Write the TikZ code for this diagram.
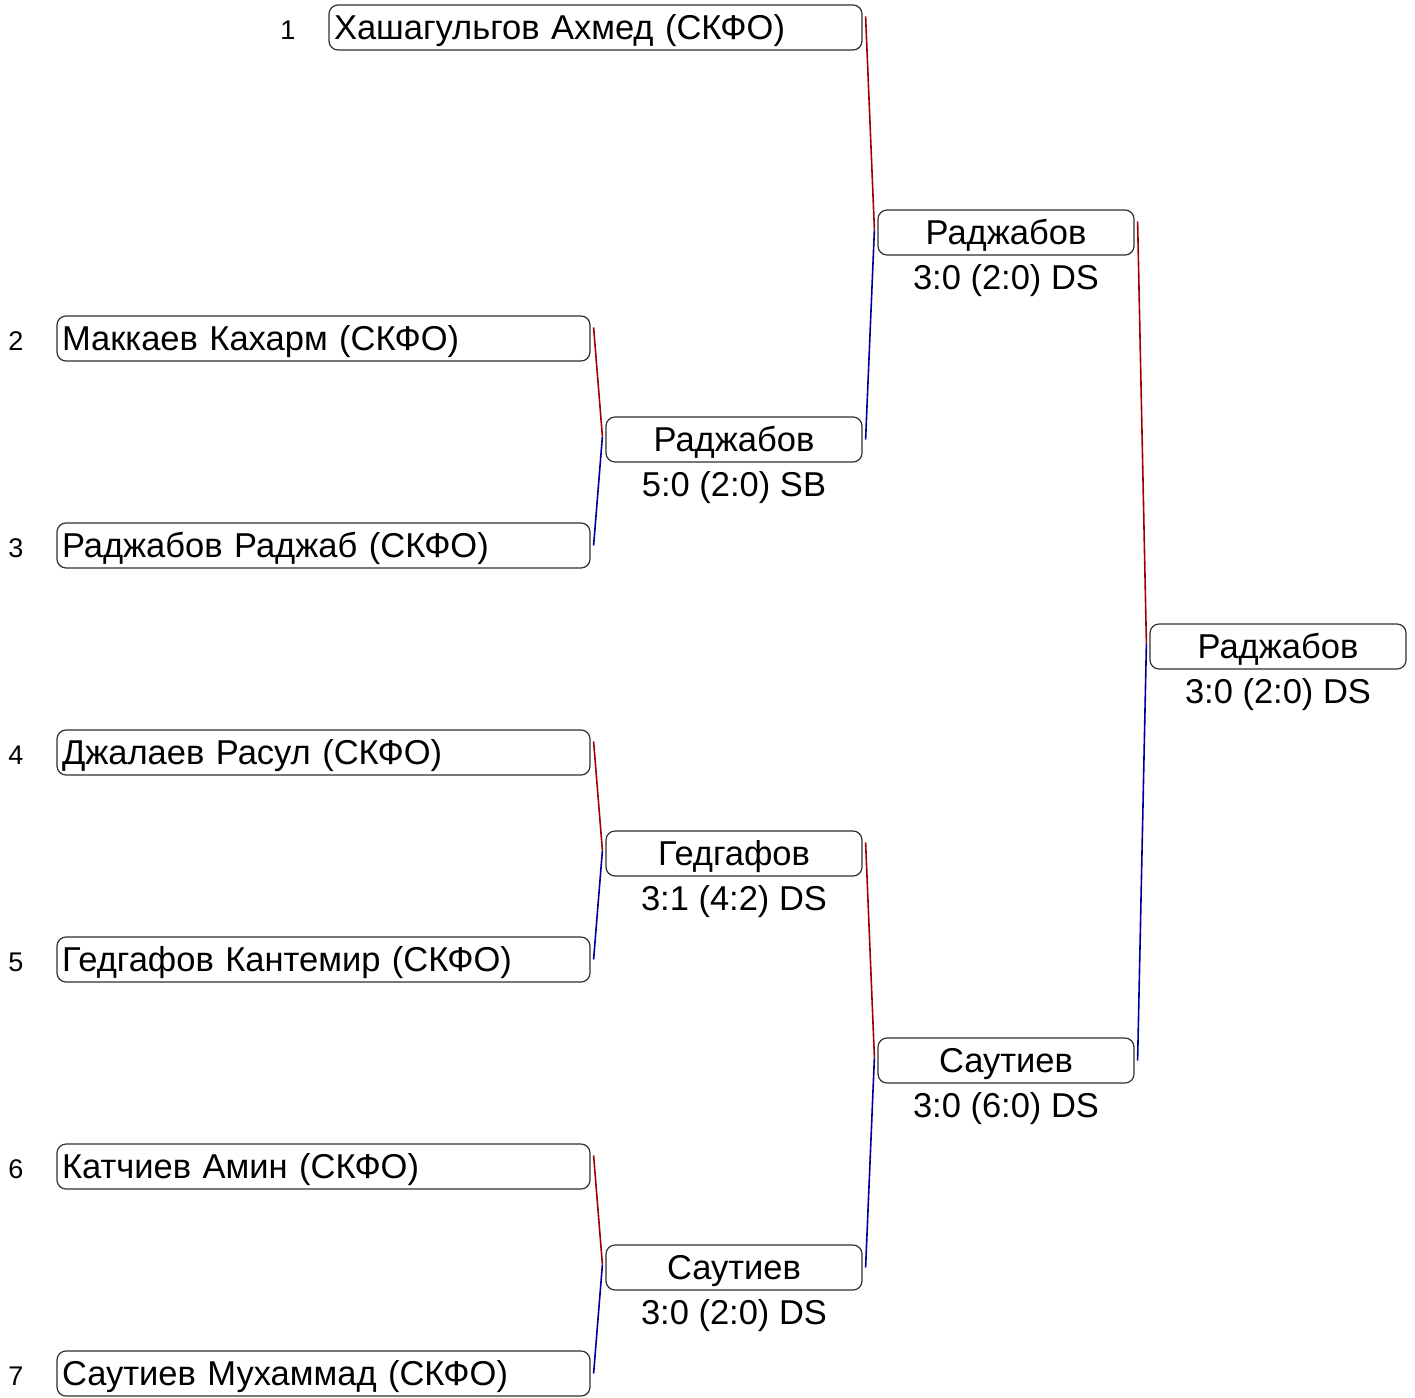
\documentclass[tikz,border=0pt]{standalone}
\usepackage{fontspec}
\setmainfont{Liberation Sans}
\usetikzlibrary{calc}
\definecolor{winred}{HTML}{A00000}
\definecolor{winblue}{HTML}{000099}
\definecolor{boxline}{HTML}{303030}
\tikzset{
  box/.style={draw=boxline, line width=1.2pt, rounded corners=9pt, minimum height=45pt,
    inner ysep=0pt, inner xsep=5pt, text height=24.7pt, text depth=0pt,
    font=\fontsize{34.5}{40}\selectfont},
  entrybox/.style={box, text width=523pt, align=left},
  matchbox/.style={box, text width=246pt, align=center},
  score/.style={inner sep=0pt, text height=24.7pt, text depth=0pt, font=\fontsize{34.5}{40}\selectfont},
  seed/.style={inner sep=0pt, text height=19.3pt, text depth=0pt, font=\fontsize{27}{32}\selectfont},
  upline/.style={draw=winred, line width=1.6pt},
  downline/.style={draw=winblue, line width=1.6pt}
}
\begin{document}
\begin{tikzpicture}[x=1pt, y=-1pt]
\useasboundingbox (0,0) rectangle (1415,1397);
% entries
\node[entrybox] (b1) at (595.5,27.5) {Хашагульгов Ахмед (СКФО)};
\node[entrybox] (b2) at (323.5,338.5) {Маккаев Кахарм (СКФО)};
\node[entrybox] (b3) at (323.5,545.5) {Раджабов Раджаб (СКФО)};
\node[entrybox] (b4) at (323.5,752.5) {Джалаев Расул (СКФО)};
\node[entrybox] (b5) at (323.5,959.5) {Гедгафов Кантемир (СКФО)};
\node[entrybox] (b6) at (323.5,1166.5) {Катчиев Амин (СКФО)};
\node[entrybox] (b7) at (323.5,1373.5) {Саутиев Мухаммад (СКФО)};
% seeds
\node[seed] (s1) at (288,30) {1};
\node[seed] (s2) at (16,340.5) {2};
\node[seed] (s3) at (16,547.5) {3};
\node[seed] (s4) at (16,754.5) {4};
\node[seed] (s5) at (16,961.5) {5};
\node[seed] (s6) at (16,1168.5) {6};
\node[seed] (s7) at (16,1375.5) {7};
% round 2
\node[matchbox] (r2a) at (734,439.5) {Раджабов};
\node[score] (sc2a) at ($(r2a.south)+(0,22)$) {5:0 (2:0) SB};
\node[matchbox] (r2b) at (734,853.5) {Гедгафов};
\node[score] (sc2b) at ($(r2b.south)+(0,22)$) {3:1 (4:2) DS};
\node[matchbox] (r2c) at (734,1267.5) {Саутиев};
\node[score] (sc2c) at ($(r2c.south)+(0,22)$) {3:0 (2:0) DS};
% round 3
\node[matchbox] (r3a) at (1006,232.5) {Раджабов};
\node[score] (sc3a) at ($(r3a.south)+(0,22)$) {3:0 (2:0) DS};
\node[matchbox] (r3b) at (1006,1060.5) {Саутиев};
\node[score] (sc3b) at ($(r3b.south)+(0,22)$) {3:0 (6:0) DS};
% final
\node[matchbox] (fin) at (1278,646.5) {Раджабов};
\node[score] (scf) at ($(fin.south)+(0,22)$) {3:0 (2:0) DS};
% connectors
\coordinate (j2a) at ($(r2a.west)+(-3,-3)$);
\coordinate (j2b) at ($(r2b.west)+(-3,-3)$);
\coordinate (j2c) at ($(r2c.west)+(-3,-3)$);
\coordinate (j3a) at ($(r3a.west)+(-3,-3)$);
\coordinate (j3b) at ($(r3b.west)+(-3,-3)$);
\coordinate (jf) at ($(fin.west)+(-3,-3)$);
\draw[upline] ($(b2.north east)+(3,12)$) -- (j2a);
\draw[downline] ($(b3.east)+(3,0)$) -- (j2a);
\draw[upline] ($(b4.north east)+(3,12)$) -- (j2b);
\draw[downline] ($(b5.east)+(3,0)$) -- (j2b);
\draw[upline] ($(b6.north east)+(3,12)$) -- (j2c);
\draw[downline] ($(b7.east)+(3,0)$) -- (j2c);
\draw[upline] ($(b1.north east)+(3,12)$) -- (j3a);
\draw[downline] ($(r2a.east)+(3,0)$) -- (j3a);
\draw[upline] ($(r2b.north east)+(3,12)$) -- (j3b);
\draw[downline] ($(r2c.east)+(3,0)$) -- (j3b);
\draw[upline] ($(r3a.north east)+(3,12)$) -- (jf);
\draw[downline] ($(r3b.east)+(3,0)$) -- (jf);
\end{tikzpicture}
\end{document}
